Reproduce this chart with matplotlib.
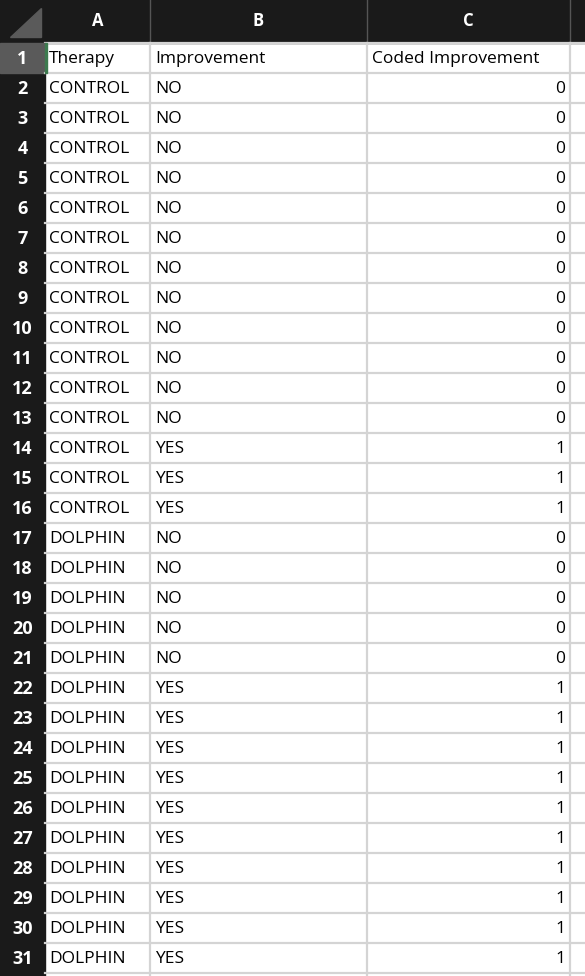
import matplotlib.pyplot as plt
from matplotlib.patches import Rectangle, Polygon

therapy = ["CONTROL"] * 15 + ["DOLPHIN"] * 15
improvement = ["NO"] * 12 + ["YES"] * 3 + ["NO"] * 5 + ["YES"] * 10
coded = [0] * 12 + [1] * 3 + [0] * 5 + [1] * 10
headers = ["Therapy", "Improvement", "Coded Improvement"]
col_letters = ["A", "B", "C"]

W, H = 585, 976
col_edges = [45, 150, 367, 570, 585]
head_h = 43
row_h = 30
dark = "#1a1a1a"
grid = "#d4d4d4"
font = "Open Sans"

fig = plt.figure(figsize=(W / 100, H / 100), dpi=100)
ax = fig.add_axes([0, 0, 1, 1])
ax.set_xlim(0, W)
ax.set_ylim(H, 0)
ax.axis("off")

# dark header bars
ax.add_patch(Rectangle((0, 0), W, head_h, color=dark, zorder=1))
ax.add_patch(Rectangle((0, 0), col_edges[0], H, color=dark, zorder=1))
ax.add_patch(Polygon([(10, 37), (41, 37), (41, 8)], color="#5a5a5a", zorder=2))
for x in col_edges[1:-1]:
    ax.plot([x, x], [0, head_h], color="#555555", lw=1, zorder=2)
for i, letter in enumerate(col_letters):
    xc = (col_edges[i] + col_edges[i + 1]) / 2
    ax.text(xc, head_h / 2, letter, color="white", fontsize=12, fontweight="bold",
            ha="center", va="center", family=font, zorder=3)

rows = [headers] + [[t, imp, str(c)] for t, imp, c in zip(therapy, improvement, coded)]
for r in range(len(rows) + 1):
    y0 = head_h + r * row_h
    ax.plot([col_edges[0], W], [y0, y0], color=grid, lw=1.6, zorder=2)
    if r == len(rows):
        break
    yc = y0 + row_h / 2 + 1
    if r == 0:
        ax.add_patch(Rectangle((0, y0), col_edges[0], row_h, color="#5a5a5a", zorder=2))
        ax.add_patch(Rectangle((col_edges[0], y0), 2, row_h, color="#3d7a4f", zorder=4))
    ax.text(col_edges[0] / 2, yc, str(r + 1), color="white", fontsize=13, fontweight="bold",
            ha="center", va="center", family=font, zorder=3)
    vals = rows[r]
    ax.text(col_edges[0] + 4, yc, vals[0], fontsize=12.5, va="center", family=font, zorder=3)
    ax.text(col_edges[1] + 5, yc, vals[1], fontsize=12.5, va="center", family=font, zorder=3)
    if r == 0:
        ax.text(col_edges[2] + 5, yc, vals[2], fontsize=12.5, va="center", family=font, zorder=3)
    else:
        ax.text(col_edges[3] - 5, yc, vals[2], fontsize=12.5, va="center", ha="right",
                family=font, zorder=3)
for x in col_edges[1:-1]:
    ax.plot([x, x], [head_h, H], color=grid, lw=1.6, zorder=2)

fig.savefig("out.png", dpi=100, facecolor="white")
